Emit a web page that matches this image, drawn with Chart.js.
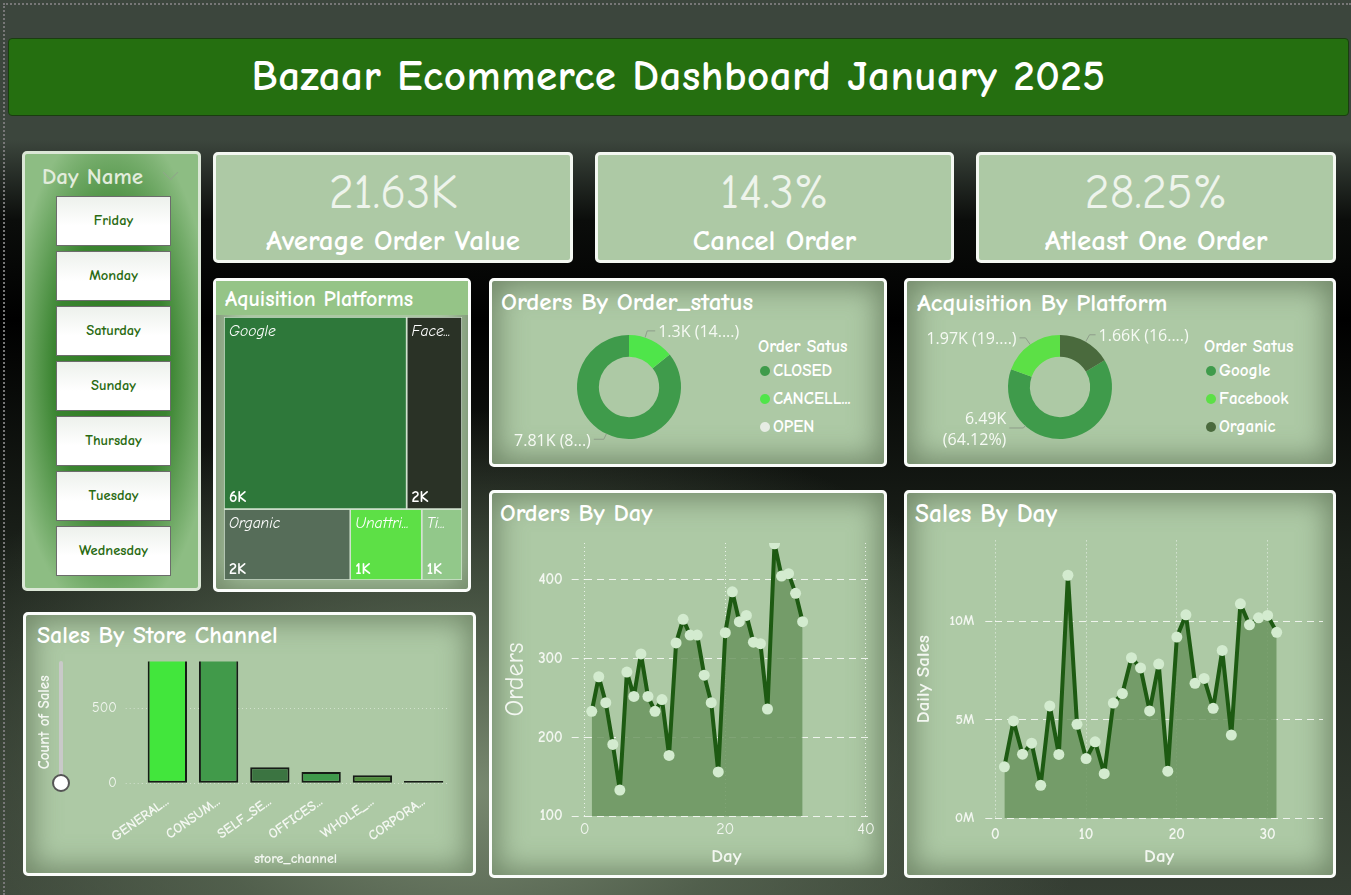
<!DOCTYPE html>
<html><head><meta charset="utf-8">
<script src="https://cdn.jsdelivr.net/npm/chart.js@4.4.1/dist/chart.umd.min.js"></script>
<style>
*{box-sizing:border-box;margin:0;padding:0}
html,body{width:1351px;height:895px;overflow:hidden}
body{position:relative;font-family:"Comic Sans MS","Comic Neue","Lato",sans-serif;
 background:
  radial-gradient(ellipse 620px 380px at 470px 790px, rgba(125,142,116,0.95) 0%, rgba(93,109,87,0.7) 45%, rgba(0,0,0,0) 100%),
  linear-gradient(#3c463d 0px,#3c463d 140px,#0b0d0b 220px,#000 320px,#1c221b 560px,#363f34 895px);}
.frame{position:absolute;left:3px;top:3px;width:1348px;height:892px;border-left:2px dotted #777;border-top:2px dotted #777}
.header{position:absolute;left:8px;top:38px;width:1341px;height:78px;background:#256f10;border:1px solid #1a3d10;border-radius:4px;color:#fff;font-weight:bold;font-size:43px;text-align:center;line-height:74px;letter-spacing:0.5px}
.panel{position:absolute;background:#adc9a5;border:3px solid #fbfdfb;border-radius:5px;box-shadow:inset 0 0 28px 6px rgba(95,115,85,.75)}
.kpi{position:absolute;background:#adc9a5;border:3px solid #f4f8f2;border-radius:5px;text-align:center;color:#fff}
.kpi .v{position:absolute;left:0;right:0;top:10px;font-size:48px;color:#eef4ec;line-height:56px}
.kpi .l{position:absolute;left:0;right:0;top:69px;font-size:29px;font-weight:bold;line-height:34px}
.title{position:absolute;color:#fff;font-weight:bold;white-space:nowrap}
.slicer{position:absolute;left:22px;top:151px;width:179px;height:440px;border:3px solid #dbe7d6;border-radius:5px;
 background:radial-gradient(ellipse 60% 58% at 50% 50%, #2d7a1e 0%, #3a8430 55%, #8dbd83 100%)}
.btn{position:absolute;left:31px;width:115px;height:50px;background:linear-gradient(#edf1ec,#ffffff 60%);border:1.5px solid #6c6c6c;color:#2a6b12;font-size:14.5px;font-weight:bold;text-align:center;line-height:47px}
.leg{position:absolute;color:#fff;font-weight:bold;font-size:17px;white-space:nowrap;line-height:20px}
.dot{display:inline-block;width:10px;height:10px;border-radius:50%;margin-right:3px;vertical-align:0px}
canvas{position:absolute}
.sl-track{position:absolute;left:59px;top:661px;width:4px;height:122px;background:#c9c9c9;border-radius:2px}
.sl-knob{position:absolute;left:52px;top:774px;width:18px;height:18px;border-radius:50%;background:#fff;border:2.5px solid #555}
.chev{position:absolute;left:165px;top:167px;width:11px;height:11px;border-right:1.5px solid #8fa889;border-bottom:1.5px solid #8fa889;transform:rotate(45deg)}
</style></head>
<body>
<div class="frame"></div>
<div class="header">Bazaar Ecommerce Dashboard January 2025</div>

<div class="slicer" id="slicer">
 <div class="title" style="left:17px;top:9px;font-size:23px;color:#e2ecdc;font-weight:bold">Day Name</div>
</div>
<div class="chev"></div>

<div class="kpi" style="left:213px;top:152px;width:360px;height:111px"><div class="v" id="k1"></div><div class="l">Average Order Value</div></div>
<div class="kpi" style="left:595px;top:152px;width:359px;height:111px"><div class="v" id="k2"></div><div class="l">Cancel Order</div></div>
<div class="kpi" style="left:976px;top:152px;width:360px;height:111px"><div class="v" id="k3"></div><div class="l">Atleast One Order</div></div>

<div class="panel" style="left:213px;top:278px;width:258px;height:314px"></div>
<div style="position:absolute;left:216px;top:281px;width:252px;height:34px;background:#95c487"></div>
<div class="title" style="left:225px;top:285px;font-size:22px;line-height:28px">Aquisition Platforms</div>

<div class="panel" style="left:489px;top:278px;width:398px;height:189px"></div>
<div class="title" style="left:501px;top:286px;font-size:25px;line-height:32px">Orders By Order_status</div>
<div class="panel" style="left:904px;top:278px;width:432px;height:189px"></div>
<div class="title" style="left:917px;top:287px;font-size:25px;line-height:32px">Acquisition By Platform</div>

<div class="panel" style="left:489px;top:490px;width:398px;height:388px"></div>
<div class="title" style="left:500px;top:497px;font-size:24.5px;line-height:32px">Orders By Day</div>
<div class="panel" style="left:904px;top:490px;width:432px;height:388px"></div>
<div class="title" style="left:915px;top:498px;font-size:25.5px;line-height:32px">Sales By Day</div>

<div class="panel" style="left:23px;top:612px;width:453px;height:264px"></div>
<div class="title" style="left:37px;top:619px;font-size:24px;line-height:32px">Sales By Store Channel</div>
<div class="sl-track"></div><div class="sl-knob"></div>

<div id="legStatus"></div>
<div id="legAcq"></div>

<canvas id="cTree" width="240" height="265" style="left:223px;top:316px"></canvas>
<canvas id="cStatus" width="255" height="145" style="left:495px;top:318px"></canvas>
<canvas id="cAcq" width="280" height="145" style="left:910px;top:318px"></canvas>
<canvas id="cOrders" width="380" height="345" style="left:500px;top:525px"></canvas>
<canvas id="cSales" width="420" height="349" style="left:910px;top:521px"></canvas>
<canvas id="cBar" width="430" height="226" style="left:30px;top:644px"></canvas>

<script>
// ---------------- DATA ----------------
const kpiValues = ['21.63K', '14.3%', '28.25%'];
const dayNames = ['Friday','Monday','Saturday','Sunday','Thursday','Tuesday','Wednesday'];

const platforms = ['Google','Facebook','Organic','Unattributed','TikTok'];
const platformCounts = [6490, 1970, 1660, 940, 530];
const treemapRows = [[0,1],[2,3,4]];

const orderStatus = ['CLOSED','CANCELLED','OPEN'];
const orderStatusLegend = ['CLOSED','CANCELL...','OPEN'];
const orderStatusCounts = [7810, 1300, 2];
const orderStatusLabels = [['7.81K (8...)'], ['1.3K (14....)'], []];

const acqPlatforms = ['Google','Facebook','Organic'];
const acqCounts = [6490, 1970, 1660];
const acqLabels = [['6.49K','(64.12%)'], ['1.97K (19....)'], ['1.66K (16....)']];

const days = [1,2,3,4,5,6,7,8,9,10,11,12,13,14,15,16,17,18,19,20,21,22,23,24,25,26,27,28,29,30,31];
const ordersByDay = [233,277,244,191,133,283,252,306,252,233,248,177,320,350,330,330,279,244,156,333,385,347,355,321,319,236,446,405,408,383,347];
const salesByDay = [2600000,4930000,3240000,3800000,1660000,5690000,3230000,12330000,4760000,3020000,3870000,2250000,5840000,6320000,8140000,7620000,5440000,7820000,2380000,9190000,10320000,6840000,7090000,5570000,8510000,4210000,10880000,9810000,10170000,10290000,9430000];

const storeChannels = ['GENERAL...','CONSUM...','SELF_SE...','OFFICES...','WHOLE_...','CORPORA...'];
const storeSales = [4500, 4360, 107, 76, 53, 15];

const ordersXTicks = [0, 20, 40];
const ordersYTicks = [100, 200, 300, 400];
const salesXTicks = [0, 10, 20, 30];
const salesYTicks = [0, 5000000, 10000000];
const storeYTicks = [0, 500];

// ---------------- STYLE ----------------
const FONT = '"Comic Sans MS","Comic Neue","Lato",sans-serif';
const LABEL_FONT = '"Open Sans","Noto Sans",sans-serif';
Chart.defaults.font.family = FONT;
const treeColors = ['#2e783a','#2a3226','#566d59','#5de046','#92c88a'];
const statusColors = ['#3f9b4b','#4fe54a','#e6ece4'];
const acqColors = ['#3f9b4b','#5ce046','#4a6a3d'];
const barColors = ['#42e63c','#419a4a','#3b7441','#3f9a4b','#4e8c3a','#1c2a1c'];
const fixTicks = arr => s => { s.ticks = arr.map(v => ({value: v})); };

// KPI + slicer
['k1','k2','k3'].forEach((id,i)=>document.getElementById(id).textContent = kpiValues[i]);
const slicer = document.getElementById('slicer');
dayNames.forEach((d,i)=>{const b=document.createElement('div');b.className='btn';b.style.top=(42+i*55)+'px';b.textContent=d;slicer.appendChild(b);});

function legend(el, left, names, colors){
  let h = '<div class="leg" style="left:'+(left-2)+'px;top:336px;font-size:17.5px">Order Satus</div>';
  names.forEach((n,i)=>{h += '<div class="leg" style="left:'+left+'px;top:'+(361+i*28)+'px"><span class="dot" style="background:'+colors[i]+'"></span>'+n+'</div>';});
  document.getElementById(el).innerHTML = h;
}
legend('legStatus', 760, orderStatusLegend, statusColors);
legend('legAcq', 1206, acqPlatforms, acqColors);

// ---------------- TREEMAP ----------------
function layoutRows(values, rows){
  const total = rows.flat().reduce((s,i)=>s+values[i],0);
  const cells = []; let y = 0;
  rows.forEach(r=>{
    const rs = r.reduce((s,i)=>s+values[i],0); const h = rs/total; let x = 0;
    r.forEach(i=>{ const w = values[i]/rs; cells[i] = {x0:x,x1:x+w,y0:y,y1:y+h}; x += w; });
    y += h;
  });
  return cells;
}
const cells = layoutRows(platformCounts, treemapRows);
const treeLabels = {
  id:'treeLabels',
  afterDatasetsDraw(chart){
    const {ctx, scales:{x,y}} = chart;
    ctx.save();
    cells.forEach((c,i)=>{
      const l = x.getPixelForValue(c.x0), r = x.getPixelForValue(c.x1);
      const t = y.getPixelForValue(c.y0), b = y.getPixelForValue(c.y1);
      const maxW = r - l - 15;
      ctx.fillStyle = '#ffffff';
      ctx.font = 'italic 15.5px ' + FONT;
      ctx.textBaseline = 'middle'; ctx.textAlign = 'left';
      let name = platforms[i];
      if (ctx.measureText(name).width > maxW) {
        while (name.length > 1 && ctx.measureText(name + '...').width > maxW) name = name.slice(0,-1);
        name += '...';
      }
      ctx.fillText(name, l + 5, t + 15);
      ctx.font = 'bold 16px ' + FONT;
      ctx.fillText(Math.round(platformCounts[i]/1000) + 'K', l + 5, b - 11);
    });
    ctx.restore();
  }
};
new Chart(document.getElementById('cTree'), {
  type:'line',
  data:{ datasets: cells.map((c,i)=>({
    data:[{x:c.x0,y:c.y0},{x:c.x1,y:c.y0},{x:c.x1,y:c.y1},{x:c.x0,y:c.y1},{x:c.x0,y:c.y0}],
    fill:'shape', backgroundColor: treeColors[i], borderColor:'#d2e2cf', borderWidth:1.5,
    pointRadius:0, tension:0 })) },
  options:{ responsive:false, animation:false, layout:{padding:1},
    plugins:{legend:{display:false}, tooltip:{enabled:false}},
    scales:{ x:{type:'linear',min:0,max:1,display:false}, y:{type:'linear',min:0,max:1,reverse:true,display:false} } },
  plugins:[treeLabels]
});

// ---------------- DONUTS ----------------
const leaderLabels = {
  id:'leaderLabels',
  afterDatasetsDraw(chart, args, o){
    const meta = chart.getDatasetMeta(0), ctx = chart.ctx;
    ctx.save();
    ctx.font = '16px ' + LABEL_FONT;
    meta.data.forEach((arc,i)=>{
      const lines = o.texts[i]; if (!lines || !lines.length) return;
      const p = arc.getProps(['x','y','startAngle','endAngle','outerRadius'], true);
      const a = p.startAngle + (p.endAngle - p.startAngle) * o.at[i];
      const side = o.side[i];
      const x0 = p.x + Math.cos(a)*p.outerRadius, y0 = p.y + Math.sin(a)*p.outerRadius;
      const x1 = p.x + Math.cos(a)*(p.outerRadius + o.ext[i]), y1 = p.y + Math.sin(a)*(p.outerRadius + o.ext[i]);
      const x2 = x1 + side*o.hor[i];
      ctx.strokeStyle = '#8e9d8a'; ctx.lineWidth = 1;
      ctx.beginPath(); ctx.moveTo(x0,y0); ctx.lineTo(x1,y1); ctx.lineTo(x2,y1); ctx.stroke();
      ctx.fillStyle = '#f6faf4'; ctx.textAlign = side > 0 ? 'left' : 'right'; ctx.textBaseline = 'middle';
      const lh = 21, n = lines.length;
      lines.forEach((t,k)=>ctx.fillText(t, x2 + side*3, y1 + (k-(n-1)/2)*lh + 2));
    });
    ctx.restore();
  }
};
const share = (arr, idx) => idx.reduce((s,i)=>s+arr[i],0) / arr.reduce((s,v)=>s+v,0);
new Chart(document.getElementById('cStatus'), {
  type:'doughnut',
  data:{ labels: orderStatus, datasets:[{ data: orderStatusCounts, backgroundColor: statusColors, borderWidth:0 }] },
  options:{ responsive:false, animation:false, cutout:'58%', rotation: share(orderStatusCounts,[1,2])*360,
    layout:{padding:{left:82,right:69,top:17,bottom:24}},
    plugins:{ legend:{display:false}, tooltip:{enabled:false},
      leaderLabels:{ texts: orderStatusLabels, at:[0.5,0.35,0.5], side:[-1,1,1], ext:[6,7,6], hor:[10,8,8] } } },
  plugins:[leaderLabels]
});
new Chart(document.getElementById('cAcq'), {
  type:'doughnut',
  data:{ labels: acqPlatforms, datasets:[{ data: acqCounts, backgroundColor: acqColors, borderWidth:0 }] },
  options:{ responsive:false, animation:false, cutout:'58%', rotation: share(acqCounts,[2])*360,
    layout:{padding:{left:98,right:78,top:17,bottom:24}},
    plugins:{ legend:{display:false}, tooltip:{enabled:false},
      leaderLabels:{ texts: acqLabels, at:[0.705,0.5,0.5], side:[-1,-1,1], ext:[3,8,8], hor:[14,6,6] } } },
  plugins:[leaderLabels]
});

// ---------------- LINE CHARTS ----------------
const W = '#f3f7f1';
function lineDataset(vals){
  return { data: days.map((d,i)=>({x:d, y:vals[i]})), borderColor:'#1d5a12', borderWidth:4,
    borderJoinStyle:'round', borderCapStyle:'round',
    pointRadius:5.5, pointHoverRadius:5.5, pointBackgroundColor:'#d3ebcf', pointBorderWidth:0,
    fill:'start', backgroundColor:'rgba(104,146,92,0.82)', tension:0 };
}
new Chart(document.getElementById('cOrders'), {
  type:'line',
  data:{ datasets:[ lineDataset(ordersByDay) ] },
  options:{ responsive:false, animation:false, layout:{padding:{top:0,right:12,left:0,bottom:0}},
    plugins:{legend:{display:false}, tooltip:{enabled:false}},
    scales:{
      x:{ type:'linear', min:0, max:40.3, afterFit:s=>{s.height=54;}, afterBuildTicks: fixTicks(ordersXTicks),
        ticks:{color:W, font:{size:16}, padding:4},
        grid:{color:'rgba(255,255,255,0.75)', drawTicks:false}, border:{display:false, dash:[1,3]},
        title:{display:true, text:'Day', color:W, font:{size:19, weight:'bold'}, padding:{top:0,bottom:2}} },
      y:{ min:100, max:447, afterFit:s=>{s.width=84.7;}, afterBuildTicks: fixTicks(ordersYTicks),
        ticks:{color:W, font:{size:15, weight:'bold'}, padding:9},
        grid:{color:'rgba(255,255,255,0.8)', tickLength:13, tickColor:'rgba(255,255,255,0.8)', tickBorderDash:[7,5]},
        border:{display:false, dash:[7,5]},
        title:{display:true, text:'Orders', color:W, font:{size:26}, padding:{top:0,bottom:0}} }
    } }
});
new Chart(document.getElementById('cSales'), {
  type:'line',
  data:{ datasets:[ lineDataset(salesByDay) ] },
  options:{ responsive:false, animation:false, layout:{padding:{top:0,right:7,left:0,bottom:0}},
    plugins:{legend:{display:false}, tooltip:{enabled:false}},
    scales:{
      x:{ type:'linear', min:0, max:36.1, afterFit:s=>{s.height=52;}, afterBuildTicks: fixTicks(salesXTicks),
        ticks:{color:W, font:{size:15, weight:'bold'}, padding:8},
        grid:{color:'rgba(255,255,255,0.75)', drawTicks:false}, border:{display:false, dash:[1,3]},
        title:{display:true, text:'Day', color:W, font:{size:19, weight:'bold'}, padding:{top:0,bottom:2}} },
      y:{ min:0, max:14100000, afterFit:s=>{s.width=85.3;}, afterBuildTicks: fixTicks(salesYTicks),
        ticks:{color:W, font:{size:14, weight:'bold'}, padding:11, callback:v=>(v/1000000)+'M'},
        grid:{color:'rgba(255,255,255,0.8)', tickLength:10, tickColor:'rgba(255,255,255,0.8)', tickBorderDash:[7,5]},
        border:{display:false, dash:[7,5]},
        title:{display:true, text:'Daily Sales', color:W, font:{size:19, weight:'bold'}, padding:{top:2,bottom:0}} }
    } }
});

// ---------------- BAR CHART ----------------
new Chart(document.getElementById('cBar'), {
  type:'bar',
  data:{ labels: storeChannels, datasets:[{ data: storeSales, backgroundColor: barColors, borderColor:'#161c16',
    borderWidth:2, borderSkipped:false, barPercentage:0.767, categoryPercentage:1, clip:0 }] },
  options:{ responsive:false, animation:false, layout:{padding:{top:0,right:10.7,left:0,bottom:0}},
    plugins:{legend:{display:false}, tooltip:{enabled:false}},
    scales:{
      x:{ afterFit:s=>{s.height=86.7;}, grid:{display:false}, border:{display:false},
        ticks:{color:W, font:{size:14, weight:'bold'}, maxRotation:35, minRotation:35, padding:2},
        title:{display:true, text:'store_channel', color:W, font:{size:14, weight:'bold'}, padding:{top:0,bottom:3}} },
      y:{ min:0, max:811, afterFit:s=>{s.width=111.7;}, afterBuildTicks: fixTicks(storeYTicks),
        ticks:{color:W, font:{size:14}, padding:9},
        grid:{color:'rgba(255,255,255,0.45)', tickLength:16, tickColor:'rgba(255,255,255,0.45)', tickBorderDash:[1,3]},
        border:{display:false, dash:[1,3]},
        title:{display:true, text:'Count of Sales', color:W, font:{size:15, weight:'bold'}, padding:{top:6,bottom:0}} }
    } }
});
</script>
</body></html>
